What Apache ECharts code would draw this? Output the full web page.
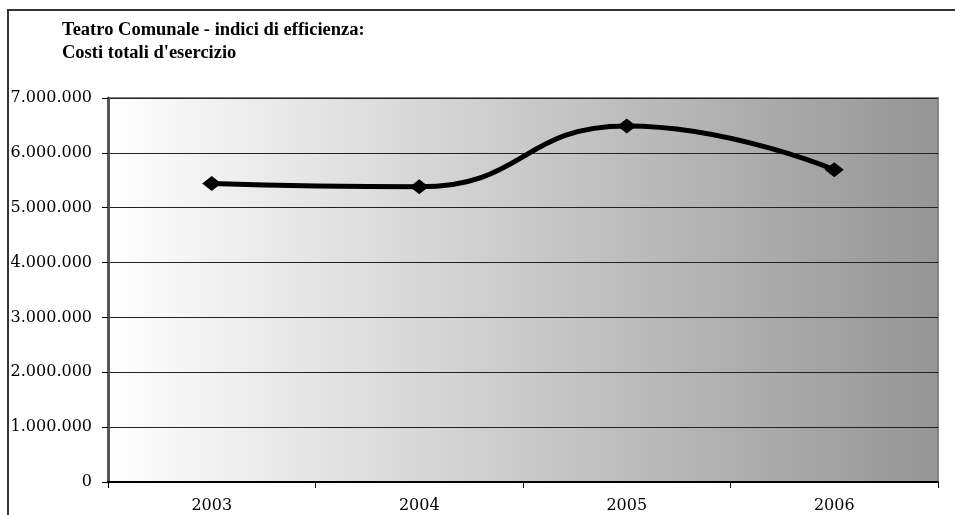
<!DOCTYPE html>
<html>
<head>
<meta charset="utf-8">
<script src="https://cdn.jsdelivr.net/npm/echarts@6/dist/echarts.min.js"></script>
<style>
html, body { margin: 0; padding: 0; background: #fff; }
#chart { width: 955px; height: 515px; }
</style>
</head>
<body>
<div id="chart"></div>
<script>
// costi totali d'esercizio per anno
var years = ['2003', '2004', '2005', '2006'];
var costs = [5440000, 5380000, 6490000, 5690000];
var yTicks = { min: 0, max: 7000000, step: 1000000 };

function dots(v) {
	return String(v).replace(/\B(?=(\d{3})+(?!\d))/g, '.');
}

var chart = echarts.init(document.getElementById('chart'));

chart.setOption({
	animation: false,
	backgroundColor: '#fff',
	graphic: [{
		type: 'rect',
		shape: { x: 8, y: 10, width: 1000, height: 600 },
		style: { fill: 'none', stroke: '#333', lineWidth: 2 },
		z: 100
	}],
	title: {
		text: "Teatro Comunale - indici di efficienza:\nCosti totali d'esercizio",
		left: 62,
		top: 19,
		padding: 0,
		textStyle: {
			fontFamily: 'Liberation Serif',
			fontWeight: 'bold',
			fontSize: 18.5,
			lineHeight: 23,
			color: '#000'
		}
	},
	grid: {
		left: 108,
		right: 17,
		top: 98,
		bottom: 33,
		show: true,
		borderColor: '#858585',
		borderWidth: 2,
		backgroundColor: new echarts.graphic.LinearGradient(0, 0, 1, 0, [
			{ offset: 0, color: '#ffffff' },
			{ offset: 1, color: '#959595' }
		])
	},
	xAxis: {
		type: 'category',
		data: years,
		boundaryGap: true,
		axisLine: { lineStyle: { color: '#000', width: 2 } },
		axisTick: { show: true, length: 6, lineStyle: { color: '#000' } },
		axisLabel: {
			margin: 16,
			fontFamily: 'DejaVu Serif',
			fontSize: 16,
			color: '#000'
		},
		splitLine: { show: false }
	},
	yAxis: {
		type: 'value',
		min: yTicks.min,
		max: yTicks.max,
		interval: yTicks.step,
		axisLine: { show: true, lineStyle: { color: '#555', width: 3 } },
		axisTick: { show: true, length: 6, lineStyle: { color: '#000' } },
		axisLabel: {
			margin: 16,
			fontFamily: 'DejaVu Serif',
			fontSize: 16,
			color: '#000',
			formatter: dots
		},
		splitLine: { lineStyle: { color: '#222', width: 1 } }
	},
	series: [{
		type: 'line',
		data: costs,
		smooth: 0.5,
		symbol: 'diamond',
		symbolSize: [19, 15],
		lineStyle: { color: '#000', width: 5 },
		itemStyle: { color: '#000' }
	}]
});
</script>
</body>
</html>
